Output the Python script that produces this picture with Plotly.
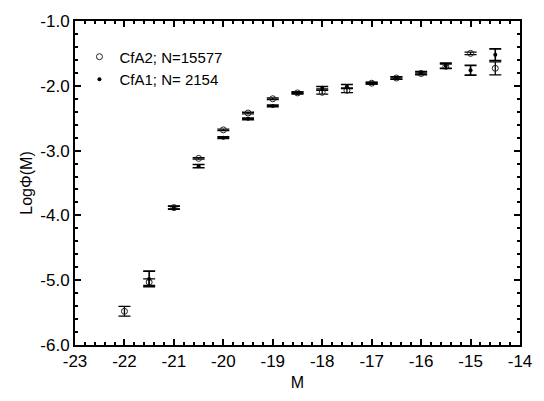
import plotly.graph_objects as go

# CfA2 sample
m_cfa2 = [-22.0, -21.5, -21.0, -20.5, -20.0, -19.5, -19.0, -18.5, -18.0, -17.5, -17.0, -16.5, -16.0, -15.5, -15.0, -14.5]
phi_cfa2 = [-5.48, -5.03, -3.88, -3.12, -2.68, -2.42, -2.20, -2.11, -2.10, -2.07, -1.96, -1.88, -1.81, -1.70, -1.50, -1.73]
err_cfa2 = [0.075, 0.05, 0.02, 0.012, 0.012, 0.012, 0.012, 0.015, 0.03, 0.035, 0.015, 0.02, 0.02, 0.035, 0.02, 0.10]

# CfA1 sample
m_cfa1 = [-21.5, -21.0, -20.5, -20.0, -19.5, -19.0, -18.5, -18.0, -17.5, -17.0, -16.5, -16.0, -15.5, -15.0, -14.5]
phi_cfa1 = [-4.98, -3.88, -3.24, -2.80, -2.51, -2.31, -2.11, -2.03, -2.01, -1.96, -1.88, -1.80, -1.69, -1.76, -1.52]
err_cfa1 = [0.12, 0.025, 0.025, 0.012, 0.012, 0.012, 0.012, 0.02, 0.03, 0.012, 0.015, 0.02, 0.04, 0.075, 0.09]

x_ticks = [-23, -22, -21, -20, -19, -18, -17, -16, -15, -14]
x_labels = ["-23", "-22", "-21", "-20", "-19", "-18", "-17", "-16", "-15", "-14"]
y_ticks = [-6, -5, -4, -3, -2, -1]
y_labels = ["-6.0", "-5.0", "-4.0", "-3.0", "-2.0", "-1.0"]

FONT = "Liberation Sans, Arial, sans-serif"

fig = go.Figure()
fig.add_trace(go.Scatter(
    x=m_cfa2, y=phi_cfa2, mode="markers", name="CfA2; N=15577",
    marker=dict(symbol="circle-open", size=6, color="#222", line=dict(width=1)),
    error_y=dict(type="data", array=err_cfa2, color="black", thickness=1.3, width=6),
))
fig.add_trace(go.Scatter(
    x=m_cfa1, y=phi_cfa1, mode="markers", name="CfA1; N= 2154",
    marker=dict(symbol="circle", size=4, color="black"),
    error_y=dict(type="data", array=err_cfa1, color="black", thickness=1.6, width=6),
))

axis_common = dict(
    showline=True, linecolor="black", linewidth=2, mirror="allticks",
    ticks="inside", ticklen=6, tickwidth=1.5, tickcolor="black",
    showgrid=False, zeroline=False,
    tickfont=dict(family=FONT, size=17, color="black"),
    minor=dict(ticks="inside", ticklen=3, tickwidth=1.5, tickcolor="black", dtick=0.2, showgrid=False),
)

fig.update_xaxes(range=[-23, -14], tickvals=x_ticks, ticktext=x_labels,
                 title=dict(text="M", font=dict(family=FONT, size=16, color="black"), standoff=6),
                 **axis_common)
fig.update_yaxes(range=[-6, -1], tickvals=y_ticks, ticktext=y_labels,
                 title=dict(text="LogΦ(M)", font=dict(family=FONT, size=16, color="black"), standoff=4),
                 **axis_common)

fig.update_layout(
    width=544, height=401,
    margin=dict(l=75, r=12, t=15, b=55),
    paper_bgcolor="white", plot_bgcolor="white",
    font=dict(family=FONT, color="black"),
    legend=dict(x=0.01, y=0.94, xanchor="left", yanchor="top",
                bgcolor="rgba(0,0,0,0)", font=dict(family=FONT, size=15, color="black"),
                itemwidth=30, tracegroupgap=0),
    showlegend=True,
)

fig.write_html("out.html")
